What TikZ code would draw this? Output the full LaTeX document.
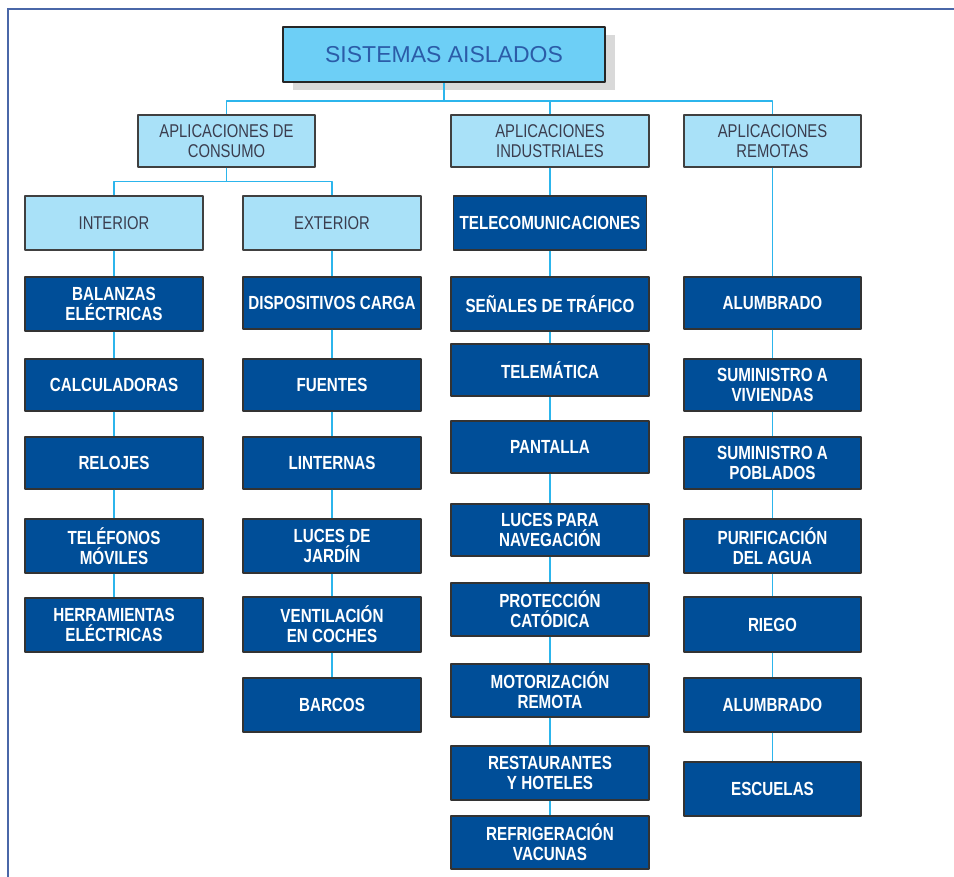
\documentclass[tikz,border=0pt]{standalone}
\usepackage{fontspec}
\setmainfont{Liberation Sans}[FakeStretch=0.8]
\newfontfamily\titulofont{Liberation Sans}
\usetikzlibrary{shadows}
\definecolor{azuloscuro}{HTML}{004E98}
\definecolor{celeste}{HTML}{A9E1F8}
\definecolor{cian}{HTML}{6DCFF6}
\definecolor{cianlinea}{HTML}{2CB5EC}
\definecolor{colormarco}{HTML}{4A67A8}
\definecolor{textogris}{HTML}{3A3D4E}
\definecolor{textoazul}{HTML}{2B5CA8}
\begin{document}
\begin{tikzpicture}[x=1pt, y=-1pt, line join=round,
	titulo/.style={draw=black!85, line width=2.5pt, fill=cian, text=textoazul, inner sep=0pt,
		minimum width=322, minimum height=55, font=\titulofont\fontsize{23}{25}\selectfont,
		drop shadow={shadow xshift=10pt, shadow yshift=-8pt, fill=black!15, opacity=1}},
	grupo/.style={draw=black!75, line width=1.2pt, fill=celeste, text=textogris, align=center,
		inner sep=0pt, font=\fontsize{18.5}{20}\selectfont},
	hoja/.style={draw=black!80, line width=1.2pt, fill=azuloscuro, text=white, align=center,
		inner sep=0pt, font=\bfseries\fontsize{19}{20}\selectfont},
	enlace/.style={draw=cianlinea, line width=1.8pt},
	marco/.style={draw=colormarco, line width=2pt}]
	\useasboundingbox (0,0) rectangle (954,877);
	% marco
	\draw[marco] (7,9.5) -- (954,9.5);
	\draw[marco] (8,9.5) -- (8,877);
	% niveles superiores
	\node[titulo] (tit) at (444,54.5) {SISTEMAS AISLADOS};
	\node[grupo, minimum width=177, minimum height=52] (cons) at (226.5,141) {APLICACIONES DE\\CONSUMO};
	\node[grupo, minimum width=198, minimum height=52] (ind) at (550,141) {APLICACIONES\\INDUSTRIALES};
	\node[grupo, minimum width=177, minimum height=52] (rem) at (772.5,141) {APLICACIONES\\REMOTAS};
	\node[grupo, minimum width=178, minimum height=54] (int) at (114,223) {INTERIOR};
	\node[grupo, minimum width=178, minimum height=54] (ext) at (332,223) {EXTERIOR};
	% interior
	\node[hoja, minimum width=178, minimum height=54] (bal) at (114,304) {BALANZAS\\ELÉCTRICAS};
	\node[hoja, minimum width=178, minimum height=52] (calc) at (114,385) {CALCULADORAS};
	\node[hoja, minimum width=178, minimum height=52] (rel) at (114,463) {RELOJES};
	\node[hoja, minimum width=178, minimum height=54] (tel) at (114,546) {TELÉFONOS\\MÓVILES};
	\node[hoja, minimum width=178, minimum height=54] (herr) at (114,625) {HERRAMIENTAS\\ELÉCTRICAS};
	% exterior
	\node[hoja, minimum width=178, minimum height=52] (disp) at (332,303) {DISPOSITIVOS CARGA};
	\node[hoja, minimum width=178, minimum height=52] (fue) at (332,385) {FUENTES};
	\node[hoja, minimum width=178, minimum height=52] (lin) at (332,463) {LINTERNAS};
	\node[hoja, minimum width=178, minimum height=54] (luc) at (332,546) {LUCES DE\\JARDÍN};
	\node[hoja, minimum width=178, minimum height=55] (vent) at (332,624.5) {VENTILACIÓN\\EN COCHES};
	\node[hoja, minimum width=178, minimum height=54] (bar) at (332,705) {BARCOS};
	% industriales
	\node[hoja, minimum width=193, minimum height=54] (tele) at (550,223) {TELECOMUNICACIONES};
	\node[hoja, minimum width=198, minimum height=54] (sen) at (550,304) {SEÑALES DE TRÁFICO};
	\node[hoja, minimum width=198, minimum height=52] (telem) at (550,370) {TELEMÁTICA};
	\node[hoja, minimum width=198, minimum height=52] (pant) at (550,447) {PANTALLA};
	\node[hoja, minimum width=198, minimum height=52] (nav) at (550,530) {LUCES PARA\\NAVEGACIÓN};
	\node[hoja, minimum width=198, minimum height=53] (prot) at (550,609.5) {PROTECCIÓN\\CATÓDICA};
	\node[hoja, minimum width=198, minimum height=53] (mot) at (550,690.5) {MOTORIZACIÓN\\REMOTA};
	\node[hoja, minimum width=198, minimum height=54] (rest) at (550,773) {RESTAURANTES\\Y HOTELES};
	\node[hoja, minimum width=198, minimum height=53] (refr) at (550,842.5) {REFRIGERACIÓN\\VACUNAS};
	% remotas
	\node[hoja, minimum width=177, minimum height=52] (alu) at (772.5,303) {ALUMBRADO};
	\node[hoja, minimum width=177, minimum height=52] (viv) at (772.5,385) {SUMINISTRO A\\VIVIENDAS};
	\node[hoja, minimum width=177, minimum height=52] (pob) at (772.5,463) {SUMINISTRO A\\POBLADOS};
	\node[hoja, minimum width=177, minimum height=54] (pur) at (772.5,546) {PURIFICACIÓN\\DEL AGUA};
	\node[hoja, minimum width=177, minimum height=55] (rie) at (772.5,624.5) {RIEGO};
	\node[hoja, minimum width=177, minimum height=54] (alub) at (772.5,705) {ALUMBRADO};
	\node[hoja, minimum width=177, minimum height=54] (esc) at (772.5,789) {ESCUELAS};
	% enlaces
	\foreach \n in {cons,ind,rem}
	\draw[enlace] (tit.south) -- ++(0,18) -| (\n.north);
	\foreach \n in {int,ext}
	\draw[enlace] (cons.south) -- ++(0,14) -| (\n.north);
	\foreach \a/\b in {int/bal,bal/calc,calc/rel,rel/tel,tel/herr,
		ext/disp,disp/fue,fue/lin,lin/luc,luc/vent,vent/bar,
		ind/tele,tele/sen,sen/telem,telem/pant,pant/nav,nav/prot,prot/mot,mot/rest,rest/refr,
		rem/alu,alu/viv,viv/pob,pob/pur,pur/rie,rie/alub,alub/esc}
	\draw[enlace] (\a.south) -- (\b.north);
\end{tikzpicture}
\end{document}
